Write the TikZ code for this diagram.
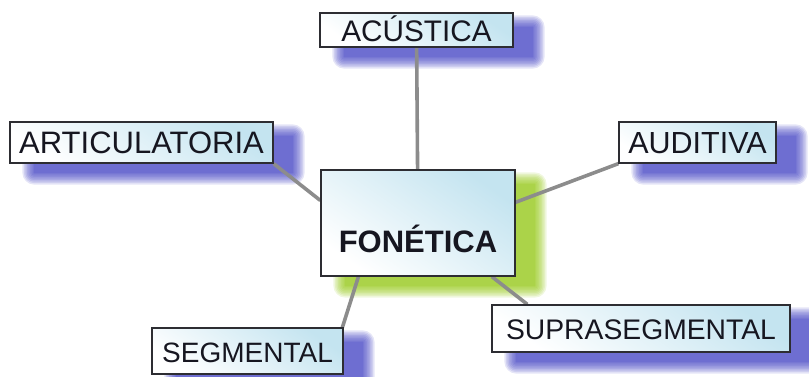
\documentclass[tikz,border=0pt]{standalone}
\usepackage{fontspec}
\setmainfont{Liberation Sans}
\pgfdeclarelayer{shadow}
\pgfdeclarelayer{conn}
\pgfsetlayers{shadow,conn,main}
\definecolor{shblue}{RGB}{52,52,190}
\definecolor{shgreen}{RGB}{138,194,0}
\definecolor{boxblue}{RGB}{196,228,240}
\definecolor{linegray}{RGB}{140,140,140}
\definecolor{edgecol}{RGB}{45,45,50}
\definecolor{txtcol}{RGB}{22,22,32}
\tikzset{
  box/.style={draw=edgecol, line width=1.3pt, inner sep=0pt, text=txtcol,
    top color=boxblue, bottom color=white, shading angle=-35,
    text height=22pt, text depth=0pt},
  fs/.style={font=\fontsize{#1}{#1}\selectfont},
  fsb/.style={font=\fontsize{#1}{#1}\selectfont\bfseries},
  connline/.style={draw=linegray, line width=3.6pt}
}
\newcommand\softshadow[2]{%
  \foreach \r in {-3,-1.5,0,1.5,3,4.5,6,7.5,9}{%
    \fill[#1, fill opacity=0.13, rounded corners={max(\r+3,0)*1pt}]
      ([shift={({22-\r},{12+\r})}]#2.south west) rectangle
      ([shift={({22+\r},{12-\r})}]#2.north east);
  }%
}
\begin{document}
\begin{tikzpicture}[x=1pt,y=-1pt]
\useasboundingbox (0,0) rectangle (809,376);
% boxes
\node[box, fs=29.7, minimum width=193pt, minimum height=34pt] (acu) at (416.5,30) {ACÚSTICA};
\node[box, fs=31, minimum width=263pt, minimum height=41pt] (art) at (141.5,142.5) {ARTICULATORIA};
\node[box, fs=30.5, minimum width=157pt, minimum height=41pt] (aud) at (697.5,142.5) {AUDITIVA};
\node[box, fsb=31, minimum width=194pt, minimum height=106pt, text height=58pt] (fon) at (418,223) {FONÉTICA};
\node[box, fs=28.3, minimum width=298pt, minimum height=47pt] (sup) at (641,328.5) {SUPRASEGMENTAL};
\node[box, fs=28, minimum width=191pt, minimum height=46pt] (seg) at (247.5,351) {SEGMENTAL};
% shadows
\begin{pgfonlayer}{shadow}
  \clip (0,0) rectangle (809,376);
  \softshadow{shblue}{acu}
  \softshadow{shblue}{art}
  \softshadow{shblue}{aud}
  \softshadow{shgreen}{fon}
  \softshadow{shblue}{sup}
  \softshadow{shblue}{seg}
\end{pgfonlayer}
% connectors
\begin{pgfonlayer}{conn}
  \draw[connline] (acu) -- (fon);
  \draw[connline] (art.south east) -- (fon.167);
  \draw[connline] (aud.south west) -- (fon.12);
  \draw[connline] (fon.-36) -- (sup.168);
  \draw[connline] (fon.222) -- (seg.14);
\end{pgfonlayer}
\end{tikzpicture}
\end{document}
